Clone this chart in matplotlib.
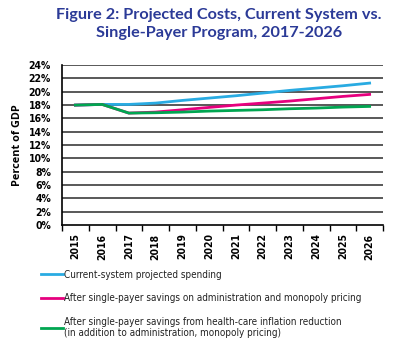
import matplotlib
matplotlib.use("Agg")
import matplotlib.pyplot as plt
from matplotlib import font_manager
import numpy as np

# ── Data ──────────────────────────────────────────────────────────────────────
years = [2015, 2016, 2017, 2018, 2019, 2020, 2021, 2022, 2023, 2024, 2025, 2026]
current_system = [18.0, 18.1, 18.1, 18.3, 18.7, 19.05, 19.4, 19.8, 20.2, 20.55, 20.9, 21.3]
admin_savings = [18.0, 18.1, 16.8, 16.95, 17.3, 17.65, 18.0, 18.3, 18.6, 18.95, 19.3, 19.6]
inflation_savings = [18.0, 18.1, 16.8, 16.85, 16.95, 17.1, 17.2, 17.3, 17.45, 17.55, 17.7, 17.8]
series_labels = [
    "Current-system projected spending",
    "After single-payer savings on administration and monopoly pricing",
    "After single-payer savings from health-care inflation reduction\n"
    "(in addition to administration, monopoly pricing)",
]
y_ticks = list(range(0, 25, 2))

BLUE = "#29abe2"
PINK = "#e6007e"
GREEN = "#00a651"
TITLE_COLOR = "#2b3a97"
GRID = "#3c3c3c"

# condensed DejaVu stands in for the narrow print font of the original
cond = font_manager.FontProperties(family="DejaVu Sans", stretch="condensed", size=7.1)
cond_b = font_manager.FontProperties(family="DejaVu Sans", stretch="condensed",
                                     weight="bold", size=7.5)

fig = plt.figure(figsize=(4, 3.5), dpi=100)
ax = fig.add_axes([0.155, 0.357, 0.8025, 0.457])

x = np.arange(len(years))
ax.plot(x, current_system, color=BLUE, lw=2, label=series_labels[0], zorder=3)
ax.plot(x, admin_savings, color=PINK, lw=2, label=series_labels[1], zorder=4)
ax.plot(x, inflation_savings, color=GREEN, lw=2, label=series_labels[2], zorder=5)

ax.set_xlim(-0.5, len(years) - 0.5)
ax.set_ylim(0, 24)
ax.set_yticks(y_ticks)
ax.set_yticklabels([f"{v}%" for v in y_ticks], fontproperties=cond_b)
ax.tick_params(axis="y", length=0, pad=8)
for v in y_ticks[1:]:
    ax.axhline(v, color=GRID, lw=1.2, zorder=1)

ax.set_xticks(x)
ax.set_xticklabels([str(y) for y in years], rotation=90, fontproperties=cond_b)
ax.set_xticks(np.arange(-0.5, len(years)), minor=True)
ax.tick_params(axis="x", which="major", length=0, pad=6)
ax.tick_params(axis="x", which="minor", length=4, width=1, color="black", direction="out")

for side in ("top", "right"):
    ax.spines[side].set_visible(False)
for side in ("left", "bottom"):
    ax.spines[side].set_color("black")
    ax.spines[side].set_linewidth(1.2)

ax.set_ylabel("Percent of GDP", fontsize=7.8, fontweight="bold",
              family=["Open Sans", "DejaVu Sans"], labelpad=4)

fig.text(0.548, 0.978, "Figure 2: Projected Costs, Current System vs.\nSingle-Payer Program, 2017-2026",
         ha="center", va="top", fontsize=11.7, fontweight="bold", color=TITLE_COLOR,
         family=["Lato", "DejaVu Sans"], linespacing=1.38)

leg = ax.legend(loc="upper left", bbox_to_anchor=(0.092, 0.24), bbox_transform=fig.transFigure,
                frameon=False, handlelength=2.3, handletextpad=0.05, labelspacing=1.35,
                borderaxespad=0, prop=cond)
for t in leg.get_texts():
    t.set_color("#222222")

fig.savefig("out.png", dpi=100)
